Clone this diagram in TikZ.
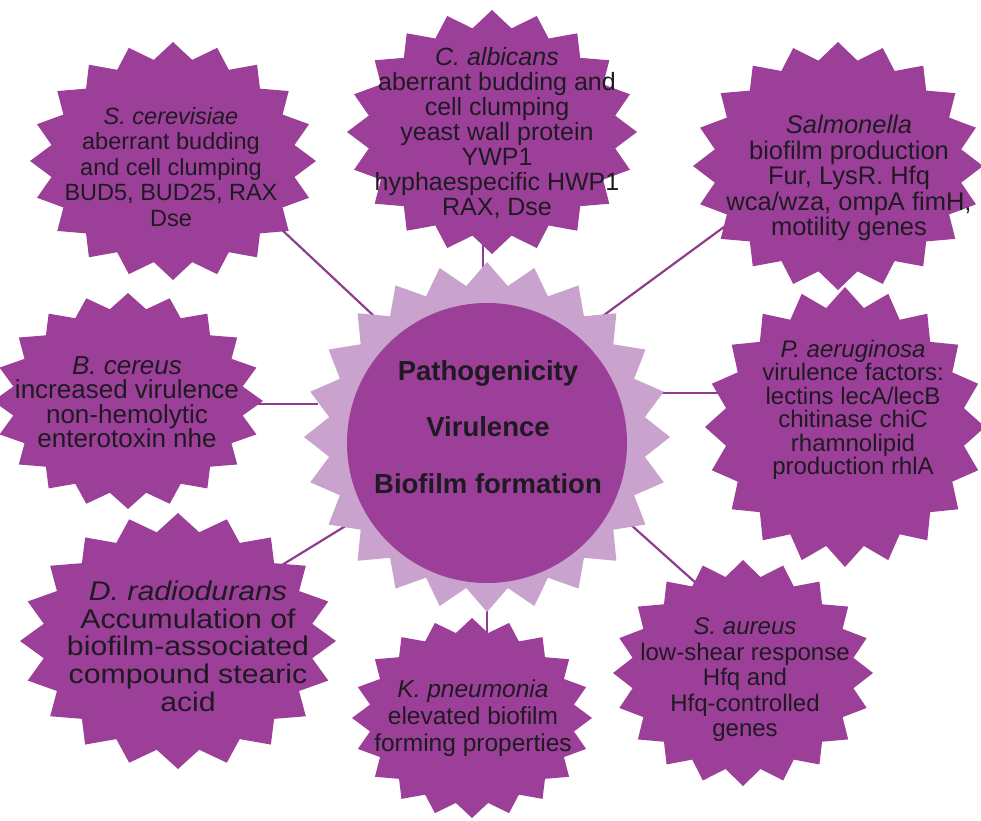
\documentclass[tikz,border=0pt]{standalone}
\usepackage{fontspec}
\setmainfont{Liberation Sans}
\definecolor{burst}{HTML}{9C3F98}
\definecolor{halo}{HTML}{C9A3CD}
\definecolor{wire}{HTML}{8E3C8E}
\definecolor{ink}{HTML}{1E1A22}

% starburst: style, cx, cy, rx, ry, points, inner ratio, rotation
\newcommand{\burst}[8]{%
  \pgfmathtruncatemacro\nsamp{2*#6}%
  \pgfmathtruncatemacro\nlast{2*#6-1}%
  \fill[#1] plot[domain=0:\nlast, samples=\nsamp, variable=\k]
    ({#2+#4*(1-(1-#7)*mod(round(\k),2))*cos(\k*180/#6+#8)},
     {#3+#5*(1-(1-#7)*mod(round(\k),2))*sin(\k*180/#6+#8)}) -- cycle;}
\newcommand{\fsz}[2]{\fontsize{#1}{#2}\selectfont}

\begin{document}
\begin{tikzpicture}[x=1pt, y=-1pt,
  lbl/.style={align=center, text=ink, inner sep=0pt},
  link/.style={draw=wire, line width=2.2pt}]
\useasboundingbox (0,0) rectangle (981,820);

% connector end points
\coordinate (sc-o) at (280,228);  \coordinate (sc-i) at (375,317);
\coordinate (ca-o) at (483,225);  \coordinate (ca-i) at (483,272);
\coordinate (sa-o) at (728,224);  \coordinate (sa-i) at (600,318);
\coordinate (bc-o) at (235,404);  \coordinate (bc-i) at (318,404);
\coordinate (pa-o) at (725,393);  \coordinate (pa-i) at (645,393);
\coordinate (dr-o) at (282,565);  \coordinate (dr-i) at (352,522);
\coordinate (kp-o) at (487,640);  \coordinate (kp-i) at (487,592);
\coordinate (su-o) at (697,584);  \coordinate (su-i) at (630,524);

\foreach \s in {sc,ca,sa,bc,pa,dr,kp,su}
  \draw[link] (\s-o) -- (\s-i);

% central badge
\burst{halo}{487}{437}{183}{175}{24}{0.87}{90}
\node[circle, fill=burst, minimum width=280pt, inner sep=0pt] (core) at (487,443) {};
\node[lbl, font=\bfseries\fsz{27.5}{56.5}] (hub) at (488,427)
  {Pathogenicity\\Virulence\\Biofilm formation};

% surrounding starbursts
\burst{burst}{173}{161}{143}{119}{20}{0.86}{90}
\burst{burst}{492}{132}{145}{122}{20}{0.86}{90}
\burst{burst}{838}{166}{145}{124}{20}{0.86}{90}
\burst{burst}{128}{401}{135}{108}{20}{0.86}{90}
\burst{burst}{845}{427}{140}{140}{20}{0.86}{90}
\burst{burst}{178}{641}{158}{128}{20}{0.86}{90}
\burst{burst}{472}{718}{120}{100}{20}{0.86}{90}
\burst{burst}{743}{673}{130}{113}{20}{0.86}{90}

\node[lbl, font=\fsz{23.5}{25.5}] (sc) at (171,167)
  {\textit{S. cerevisiae}\\aberrant budding\\and cell clumping\\BUD5, BUD25, RAX\\Dse};
\node[lbl, font=\fsz{25}{25}] (ca) at (497,133)
  {\textit{C. albicans}\\aberrant budding and\\cell clumping\\yeast wall protein\\YWP1\\hyphaespecific HWP1\\RAX, Dse};
\node[lbl, font=\fsz{25.5}{25.5}] (sa) at (849,178)
  {\textit{Salmonella}\\biofilm production\\Fur, LysR. Hfq\\wca/wza, ompA fimH,\\motility genes};
\node[lbl, font=\fsz{26}{24.5}] (bc) at (127,402)
  {\textit{B. cereus}\\increased virulence\\non-hemolytic\\enterotoxin nhe};
\node[lbl, font=\fsz{24}{23.5}] (pa) at (853,410)
  {\textit{P. aeruginosa}\\virulence factors:\\lectins lecA/lecB\\chitinase chiC\\rhamnolipid\\production rhlA};
\node[lbl] (dr) at (188,650)
  {\scalebox{1.12}[1]{\fsz{27}{27}\begin{tabular}{@{}c@{}}\textit{D. radiodurans}\\Accumulation of\\biofilm-associated\\compound stearic\\acid\end{tabular}}};
\node[lbl, font=\fsz{24.5}{27}] (kp) at (473,718)
  {\textit{K. pneumonia}\\elevated biofilm\\forming properties};
\node[lbl, font=\fsz{24}{25.5}] (su) at (745,680)
  {\textit{S. aureus}\\low-shear response\\Hfq and\\Hfq-controlled\\genes};
\end{tikzpicture}
\end{document}
